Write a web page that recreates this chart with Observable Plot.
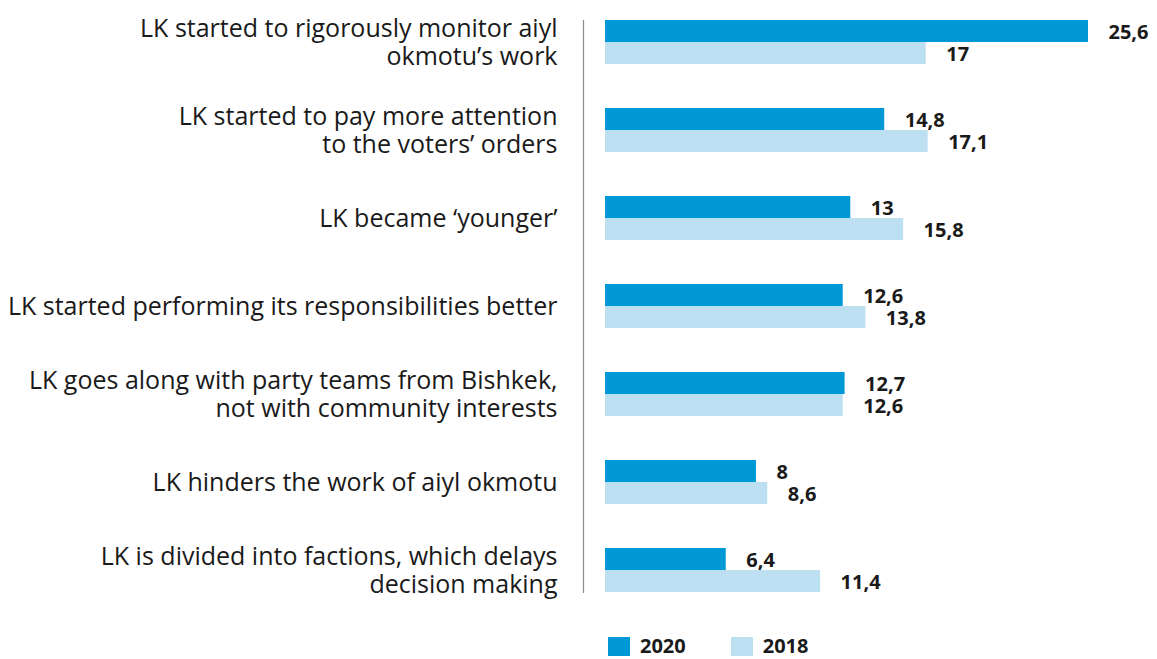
<!DOCTYPE html>
<html>
<head>
<meta charset="utf-8">
<script src="https://cdn.jsdelivr.net/npm/d3@7"></script>
<script src="https://cdn.jsdelivr.net/npm/@observablehq/plot@0.6"></script>
<style>
  html, body { margin: 0; padding: 0; background: #fff; }
  #wrap { position: relative; width: 1157px; height: 659px; overflow: hidden; font-family: "Open Sans", Lato, sans-serif; }
  #legend { position: absolute; left: 608px; top: 636px; display: flex; align-items: center; font-weight: bold; font-size: 20px; line-height: 20px; color: #1a1a1a; }
  .item { display: flex; align-items: center; margin-right: 45px; }
  .swatch { width: 22px; height: 19px; margin-right: 10px; }
</style>
</head>
<body>
<div id="wrap">
  <div id="chart"></div>
  <div id="legend"></div>
</div>
<script>
const categories = [
  "LK started to rigorously monitor aiyl\nokmotu’s work",
  "LK started to pay more attention\nto the voters’ orders",
  "LK became ‘younger’",
  "LK started performing its responsibilities better",
  "LK goes along with party teams from Bishkek,\nnot with community interests",
  "LK hinders the work of aiyl okmotu",
  "LK is divided into factions, which delays\ndecision making"
];
const years = ["2020", "2018"];
const values2020 = [25.6, 14.8, 13, 12.6, 12.7, 8, 6.4];
const values2018 = [17, 17.1, 15.8, 13.8, 12.6, 8.6, 11.4];
const colors = ["#0099d5", "#bcdff2"];

const data = categories.flatMap((c, i) => [
  {category: c, year: years[0], value: values2020[i]},
  {category: c, year: years[1], value: values2018[i]}
]);
const fmt = v => String(v).replace(".", ",");

const chart = Plot.plot({
  width: 1157,
  height: 620,
  marginLeft: 583,
  marginRight: 69,
  marginTop: 9,
  marginBottom: 17,
  style: {fontFamily: "'Open Sans', Lato, sans-serif", color: "#1a1a1a", background: "#fff"},
  x: {domain: [0, d3.max([...values2020, ...values2018])], insetLeft: 22, axis: null},
  y: {domain: years, axis: null, paddingInner: 0, paddingOuter: 0},
  fy: {domain: categories, paddingInner: 0.5, paddingOuter: 0.1, axis: null, label: null},
  color: {domain: years, range: colors},
  marks: [
    Plot.axisFy({anchor: "left", tickSize: 0, tickPadding: 26, fontSize: 25, lineHeight: 1.12, label: null, fill: "#1a1a1a"}),
    Plot.frame({anchor: "left", facet: "super", stroke: "#8c8c8c", strokeWidth: 1.2}),
    Plot.barX(data, {fy: "category", y: "year", x: "value", fill: "year"}),
    Plot.text(data, {fy: "category", y: "year", x: "value", text: d => fmt(d.value), dx: 20, dy: 1, textAnchor: "start", fontWeight: "bold", fontSize: 20, fill: "#1a1a1a"})
  ]
});
document.getElementById("chart").appendChild(chart);

const legend = document.getElementById("legend");
years.forEach((y, i) => {
  const item = document.createElement("div");
  item.className = "item";
  const sw = document.createElement("span");
  sw.className = "swatch";
  sw.style.background = colors[i];
  const t = document.createElement("span");
  t.textContent = y;
  item.appendChild(sw);
  item.appendChild(t);
  legend.appendChild(item);
});
</script>
</body>
</html>
